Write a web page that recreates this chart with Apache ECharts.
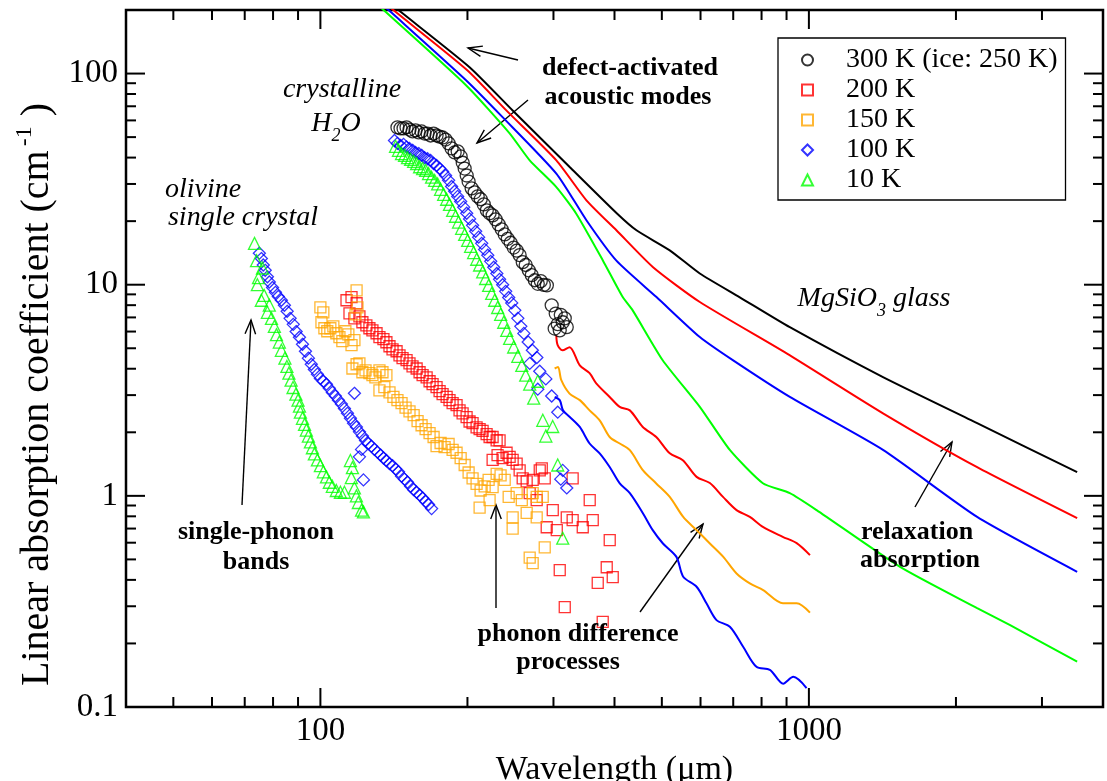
<!DOCTYPE html>
<html><head><meta charset="utf-8">
<script src="https://cdn.jsdelivr.net/npm/echarts@6/dist/echarts.min.js"></script>
<style>html,body{margin:0;padding:0;background:#fff}#c{width:1107px;height:781px}</style>
</head><body><div id="c"></div>
<script>
// ---------- axis ticks ----------
const xTickValues = [100, 1000];
const xTickLabels = ['100', '1000'];
const yTickValues = [0.1, 1, 10, 100];
const yTickLabels = ['0.1', '1', '10', '100'];
const xMinorTicks = [50,60,70,80,90,200,300,400,500,600,700,800,900,2000,3000];
const yMinorTicks = [0.2,0.3,0.4,0.5,0.6,0.7,0.8,0.9,2,3,4,5,6,7,8,9,20,30,40,50,60,70,80,90];
const X_MIN = 40, X_MAX = 4000, Y_MIN = 0.1, Y_MAX = 200;

// ---------- legend ----------
const legendNames = ['300 K (ice: 250 K)', '200 K', '150 K', '100 K', '10 K'];

// ---------- crystalline H2O ----------
const h2o300 = [[143.8,55.6],[145.9,55],[148,55],[150.1,55.6],[152.2,54.3],[154.4,53.2],[156.6,53.8],[158.9,52.6],[161.1,53.2],[163.4,52],[165.7,52],[168.1,50.9],[170.5,52],[172.9,50.9],[175.4,50.3],[177.9,49.8],[180.4,48.7],[183,46.7],[185.6,44.2],[188.3,42.3],[191,42.8],[193.7,40.5],[195.6,37.8],[197.4,35.5],[199.3,32.9],[201.1,30.8],[204,28.6],[206.9,27.4],[209.9,26.2],[212.9,25.4],[216,24],[219.1,22.5],[222,21.8],[225.2,21.3],[228.4,20.4],[231.7,19.3],[235,18.3],[238.4,17.3],[241.8,16.5],[245.2,15.8],[248.7,15],[252.3,14.5],[255.8,13.8],[259.5,12.8],[263.2,12.4],[267,11.7],[270.8,11.1],[274.7,10.5],[278.6,10.1],[282.6,10.4],[286.7,9.98],[290.8,9.93],[297.5,7.99],[303.2,7.3],[310.5,7.2],[316.4,6.93],[313.4,6.64],[306.1,6.5],[319.4,6.3],[301.7,6.2],[309,6.08]];
const h2o100 = [[141.8,48.2],[143.8,46.7],[145.9,45.7],[148,46.2],[150.1,44.9],[152.2,44.2],[154.4,43.3],[156.6,42.3],[158.9,41.8],[161.1,41],[163.4,40],[165.7,39.5],[168.1,38.8],[170.5,37.5],[172.9,36.7],[175.4,35.5],[177.9,34.4],[180.4,32.9],[183,31.2],[185.6,29.2],[188.3,27.7],[191,26.2],[193.7,24.8],[196.5,23.3],[199.3,21.8],[202,20.5],[204.9,19.1],[207.9,17.9],[210.8,16.8],[213.9,15.7],[216.9,14.7],[220.1,13.8],[223.2,12.9],[226.4,12.1],[229.7,11.3],[232.7,10.6],[236.1,10],[239.5,9.3],[242.9,8.7],[246.4,8.2],[250,7.56],[253.6,6.93],[257.2,6.35],[260.9,5.88],[266.3,5.35],[271.6,4.89],[277.4,4.52],[268.2,4.24],[281.2,3.89],[289.4,3.58],[278.6,3.2],[297.5,2.97],[306.1,2.49],[313.4,1.32],[319.4,1.09],[310.5,1.2]];
const h2o10 = [[142.5,45.2],[144.5,43.3],[146.6,41.8],[148.7,41],[150.8,40],[153,39.2],[155.2,38.4],[157.4,37.5],[159.6,36.2],[161.9,35.5],[164.2,34.8],[166.5,33.6],[168.9,32.3],[171.3,31.2],[173.8,30],[176.2,28.3],[178.8,26.8],[181.3,25.4],[183.8,24],[186.5,22.5],[189.1,21.1],[191.8,19.8],[194.6,18.5],[197.4,17.3],[200.2,16.2],[203,15.2],[205.9,14.2],[208.9,13.2],[211.8,12.4],[214.9,11.5],[217.9,10.7],[221,9.93],[224.2,9.1],[227.4,8.44],[230.6,7.8],[233.9,7.24],[237.3,6.64],[240.7,6.08],[244,5.57],[248.7,5.07],[253.6,4.58],[258.4,4.15],[263.2,3.73],[268.2,3.38],[273.3,2.9],[278.6,3.49],[285.3,2.28],[289.4,1.92],[298.9,2.13],[306.1,1.4],[313.4,0.63]];

// ---------- olivine single crystal ----------
const oliv100 = [[75,14.1],[75.7,13.3],[76.4,12.4],[77.1,11.7],[77.9,10.9],[78.6,10.3],[79.8,9.7],[80.9,9.2],[82,8.8],[83.2,8.44],[84.4,7.99],[85.5,7.48],[86.7,6.93],[88,6.49],[89.2,6],[90.6,5.64],[91.9,5.22],[93.2,4.84],[94.5,4.49],[95.8,4.2],[97.2,3.97],[98.6,3.77],[100,3.6],[101.4,3.49],[102.9,3.38],[104.3,3.23],[105.8,3.09],[107.3,2.97],[108.9,2.84],[110.4,2.72],[112,2.59],[113.6,2.46],[115.2,2.33],[116.9,2.21],[118.5,2.12],[120.2,2.01],[121.9,1.92],[123.7,1.83],[125.4,1.77],[127.2,1.72],[129,1.66],[130.9,1.61],[132.8,1.56],[134.6,1.51],[136.5,1.47],[138.5,1.42],[140.5,1.39],[142.5,1.34],[144.5,1.3],[146.6,1.24],[148.7,1.2],[150.8,1.16],[153,1.11],[155.2,1.07],[157.4,1.04],[159.6,1.01],[161.9,0.976],[164.2,0.94],[166.5,0.91],[168.9,0.87],[117.4,3.06],[120.2,1.53],[122.5,1.19],[121.4,1.66]];
const oliv10 = [[73.3,15.7],[74,13],[76.1,12],[74.7,10.8],[74.3,10],[76.7,8.9],[75.7,8.44],[78.6,8],[77.9,7.4],[79.4,6.93],[80.5,6.35],[81.3,5.8],[82.4,5.35],[83.2,4.89],[84.6,4.49],[85.4,4.1],[86.2,3.81],[87.1,3.53],[87.9,3.26],[89.1,3.03],[90,2.84],[90.6,2.66],[91,2.49],[91.9,2.33],[92.8,2.18],[93.6,2.05],[94.5,1.92],[95.4,1.8],[96.3,1.69],[97.2,1.58],[98.6,1.48],[100,1.39],[101.4,1.3],[102.9,1.23],[104.3,1.16],[105.8,1.11],[107.8,1.06],[109.9,1.04],[112,1.04],[115.2,1.47],[116.3,1.36],[115.7,1.22],[117.4,1.09],[118.5,1],[119.6,0.93],[121.4,0.856],[122.5,0.84]];

// ---------- squares ----------
const sq200 = [[113.1,8.44],[115.8,8.73],[118.6,8.17],[114.7,7.32],[117.4,6.93],[120.2,7.08],[121.9,6.64],[124.2,6.42],[126,6.22],[127.8,6.08],[130.3,5.89],[132.1,5.64],[134.6,5.52],[136.5,5.34],[138.5,5.11],[140.5,4.94],[143.2,4.84],[145.2,4.63],[147.3,4.49],[150.1,4.39],[152.2,4.24],[154.4,4.1],[157.4,4.01],[159.6,3.85],[161.9,3.73],[165,3.64],[167.3,3.49],[169.7,3.38],[172.9,3.27],[175.4,3.13],[177.9,3.03],[181.3,2.94],[183.8,2.84],[186.5,2.75],[190,2.69],[192.7,2.54],[195.5,2.46],[199.2,2.36],[202,2.25],[204.9,2.21],[208.8,2.11],[211.8,2.07],[214.8,2.03],[218.9,1.96],[222,1.9],[225.2,1.9],[229.5,1.83],[232.7,1.83],[225.2,1.48],[230.5,1.56],[236,1.51],[240.5,1.6],[244,1.53],[247.5,1.48],[252.2,1.42],[255.8,1.32],[259.5,1.21],[264.4,1.17],[268.2,1.03],[272,1.19],[277.2,0.954],[281.2,1.32],[283.9,1.35],[287.9,1.21],[290.6,0.71],[299,0.856],[304.7,0.688],[319.4,0.79],[328.4,0.767],[328.4,1.21],[344.4,0.71],[355.9,0.954],[361,0.767],[391.1,0.617],[309,0.445],[385.6,0.459],[396.7,0.412],[369.6,0.387],[316.4,0.297],[378.4,0.253]];
const sq150 = [[100,7.81],[101.4,7.4],[100.5,6.64],[101.9,6.22],[103.3,6.02],[104.8,6.22],[106.3,6.35],[107.8,5.89],[109.4,5.64],[110.9,5.4],[112.5,6.02],[114.1,5.82],[115.8,5.17],[117.4,5.46],[118.6,9.41],[119.1,7.81],[118,7.24],[116.3,4.01],[118.6,4.2],[120.2,4.24],[121.9,3.85],[123.7,3.93],[126,3.81],[127.8,3.73],[129.6,3.64],[132.1,3.93],[134,3.85],[136.5,3.73],[132.1,3.16],[135.2,3.27],[138.5,3.09],[141.1,2.94],[143.8,2.84],[146.6,2.75],[149.4,2.62],[152.2,2.51],[155.2,2.41],[158.1,2.26],[161.1,2.16],[164.2,2.07],[167.3,1.98],[170.5,1.9],[172.9,1.72],[176.2,1.78],[179.6,1.7],[183,1.76],[186.5,1.65],[190,1.6],[193.7,1.51],[197.4,1.4],[201.1,1.29],[204.9,1.21],[208.8,1.14],[212.8,1.06],[216.9,1.11],[221,1.19],[225.2,1.1],[229.5,1.27],[233.8,1.25],[238.4,1.19],[211.8,0.88],[222,0.954],[242.9,0.99],[247.5,0.79],[252.2,1.03],[258.4,0.954],[264.4,0.83],[272,1.03],[277.2,0.99],[285.2,0.99],[247.5,0.7],[268.2,0.51],[272,0.48],[287.9,0.57],[277.2,0.79]];

// ---------- long-wavelength spectra (continuation) ----------
const wig200 = [[304,5.76],[306,5.17],[313,4.89],[323.6,5.06],[339.6,4.15],[355.7,3.81],[367,3.41],[391,2.94],[410,2.64],[430,2.54],[457,2.12],[487,1.9],[519,1.59],[552,1.476],[589,1.23],[627,1.15],[667,0.989],[711,0.856],[757,0.795],[805,0.713],[884,0.64],[944,0.597],[1005,0.524]];
const wig150 = [[301.7,4.01],[306.5,4.08],[311.3,3.53],[323.6,3.05],[339.6,2.84],[355.7,2.54],[373,2.28],[391,1.9],[410,1.77],[430,1.645],[457.6,1.32],[487,1.145],[519,0.989],[553,0.795],[589,0.688],[627,0.595],[668,0.514],[711,0.429],[757,0.385],[806,0.358],[885,0.31],[944,0.31],[1005,0.28]];
const wig100 = [[301.7,2.94],[309,2.84],[313.8,2.54],[323.6,2.37],[339.6,2.12],[355.7,1.77],[373,1.59],[391,1.37],[410,1.145],[430,1.03],[457.6,0.825],[479,0.688],[502.6,0.595],[535.6,0.514],[553,0.414],[589,0.371],[617,0.31],[647,0.258],[689,0.24],[733.5,0.193],[781,0.155],[832,0.15],[886,0.129],[929,0.139],[989,0.123]];

// ---------- MgSiO3 glass ----------
const glass300 = [[140,212],[146.4,195],[202,107.2],[247.5,66.9],[323.8,36.1],[404.2,21.8],[443.6,18.1],[519,14.55],[598,11.3],[722,8.72],[914,6.29],[1418,3.65],[2210,2.21],[3541,1.295]];
const glass200 = [[137,212],[142.9,195],[200.1,103.4],[240.2,66.9],[304.1,38.8],[350.4,25.1],[403.6,18.1],[479.7,12.1],[598,8.28],[900.3,4.73],[1418,2.46],[2210,1.367],[3541,0.784]];
const glass100 = [[134,212],[139.6,195],[198.9,92.8],[236,62.2],[304.1,33.6],[350.4,20.2],[403.6,13],[487.5,8.74],[598,5.65],[698.6,4.39],[914,2.94],[1418,1.65],[2210,0.795],[3541,0.437]];
const glass10 = [[131,212],[136.3,195],[198.9,87.8],[244,52.1],[268.2,38.8],[304.1,29],[334,21.7],[378.9,13],[415.8,8.74],[435.8,7.56],[502,4.39],[598,2.64],[688.8,1.65],[805,1.148],[914,1.03],[1037,0.856],[1537,0.461],[2210,0.294],[2582,0.244],[3541,0.164]];

const FONT = 'Liberation Serif';
const chart = echarts.init(document.getElementById('c'), null, {renderer: 'canvas'});

function labelFor(vals, labels) {
  return function (v) {
    const i = vals.findIndex(t => Math.abs(Math.log10(t) - Math.log10(v)) < 1e-6);
    return i < 0 ? '' : labels[i];
  };
}
function sc(name, data, symbol, color, size) {
  return {type: 'scatter', name, data, symbol, symbolSize: size, silent: true, z: 3,
    itemStyle: {color: 'transparent', borderColor: color, borderWidth: 1.3},
    emphasis: {disabled: true}};
}
function ln(name, data, color, smooth) {
  return {type: 'line', name, data, symbol: 'none', showSymbol: false, silent: true, clip: true, z: 2,
    smooth: smooth || false, lineStyle: {color, width: 2}, emphasis: {disabled: true}};
}
// tick marks on all 4 sides, positioned through the axes
const tickData = [];
xTickValues.forEach(v => tickData.push([v, 1, 0, 1]));
xMinorTicks.forEach(v => tickData.push([v, 1, 0, 0]));
yTickValues.forEach(v => tickData.push([100, v, 1, 1]));
yMinorTicks.forEach(v => tickData.push([100, v, 1, 0]));
const tickSeries = {
  type: 'custom', silent: true, z: 5, data: tickData, encode: {x: 0, y: 1},
  renderItem: function (params, api) {
    const isY = api.value(2) === 1, L = api.value(3) === 1 ? 19 : 10;
    const sty = {stroke: '#000', lineWidth: 2};
    if (!isY) {
      const v = api.value(0), b = api.coord([v, Y_MIN]), t = api.coord([v, Y_MAX]);
      return {type: 'group', children: [
        {type: 'line', shape: {x1: b[0], y1: b[1], x2: b[0], y2: b[1] - L}, style: sty},
        {type: 'line', shape: {x1: t[0], y1: t[1], x2: t[0], y2: t[1] + L}, style: sty}]};
    }
    const v = api.value(1), l = api.coord([X_MIN, v]), r = api.coord([X_MAX, v]);
    return {type: 'group', children: [
      {type: 'line', shape: {x1: l[0], y1: l[1], x2: l[0] + L, y2: l[1]}, style: sty},
      {type: 'line', shape: {x1: r[0], y1: r[1], x2: r[0] - L, y2: r[1]}, style: sty}]};
  }
};

function txt(text, x, y, size, italic, bold, rich) {
  const st = {text, x, y, fill: '#000', align: 'center', verticalAlign: 'middle',
    fontFamily: FONT, fontSize: size, fontStyle: italic ? 'italic' : 'normal', fontWeight: bold ? 'bold' : 'normal'};
  if (rich) st.rich = rich;
  return {type: 'text', z: 10, silent: true, style: st};
}
function arrow(x1, y1, x2, y2) {
  const a = Math.atan2(y2 - y1, x2 - x1), L = 15, h = 0.36;
  const sty = {stroke: '#000', lineWidth: 1.4, fill: null};
  return {type: 'group', z: 10, silent: true, children: [
    {type: 'line', shape: {x1, y1, x2, y2}, style: sty},
    {type: 'polyline', shape: {points: [[x2 - L * Math.cos(a - h), y2 - L * Math.sin(a - h)], [x2, y2], [x2 - L * Math.cos(a + h), y2 - L * Math.sin(a + h)]]}, style: sty}]};
}
const subRich = {
  m: {fontFamily: FONT, fontSize: 28, fontStyle: 'italic'},
  s: {fontFamily: FONT, fontSize: 18, fontStyle: 'italic', padding: [24, 0, 0, 0]}
};

chart.setOption({
  animation: false,
  backgroundColor: '#fff',
  textStyle: {fontFamily: FONT, color: '#000'},
  grid: {left: 126, right: 4, top: 10, bottom: 74, show: true, borderColor: '#000', borderWidth: 2.5,
    backgroundColor: 'transparent', containLabel: false, outerBoundsMode: 'none'},
  xAxis: {type: 'log', logBase: 10, min: X_MIN, max: X_MAX,
    axisLine: {show: false}, axisTick: {show: false}, splitLine: {show: false}, minorTick: {show: false},
    axisLabel: {formatter: labelFor(xTickValues, xTickLabels), fontFamily: FONT, fontSize: 33, color: '#000', margin: 8},
    name: 'Wavelength (\u03bcm)', nameLocation: 'middle', nameGap: 42,
    nameTextStyle: {fontFamily: FONT, fontSize: 34, color: '#000'}},
  yAxis: {type: 'log', logBase: 10, min: Y_MIN, max: Y_MAX,
    axisLine: {show: false}, axisTick: {show: false}, splitLine: {show: false}, minorTick: {show: false},
    axisLabel: {formatter: labelFor(yTickValues, yTickLabels), fontFamily: FONT, fontSize: 33, color: '#000', margin: 8},
    name: 'Linear absorption coefficient (cm{sup|-1}{n|)}', nameLocation: 'middle', nameGap: 61, nameRotate: 90,
    nameTextStyle: {fontFamily: FONT, fontSize: 40, color: '#000', padding: [0, 72, 0, 0],
      rich: {sup: {fontFamily: FONT, fontSize: 24, padding: [0, 0, 26, 4]}, n: {fontFamily: FONT, fontSize: 40, padding: [0, 0, 0, 10]}}}},
  legend: {data: legendNames, orient: 'vertical', left: 778, top: 38, padding: [7, 8, 5, 23],
    itemGap: 0, itemWidth: 11, itemHeight: 11, borderColor: '#000', borderWidth: 1.3, borderRadius: 0,
    backgroundColor: '#fff', selectedMode: false,
    formatter: n => '    ' + n,
    textStyle: {fontFamily: FONT, fontSize: 28, color: '#000', lineHeight: 30}},
  series: [
    sc(legendNames[0], h2o300, 'circle', '#000000', 13),
    sc(legendNames[1], sq200, 'rect', '#ff0000', 11),
    sc(legendNames[2], sq150, 'rect', '#ffa500', 11),
    sc(legendNames[3], oliv100, 'diamond', '#0000ff', 12),
    sc(legendNames[3], h2o100, 'diamond', '#0000ff', 12),
    sc(legendNames[4], oliv10, 'triangle', '#00ff00', 12),
    sc(legendNames[4], h2o10, 'triangle', '#00ff00', 12),
    ln('glass 300 K', glass300, '#000000', 0.2),
    ln('glass 200 K', glass200, '#ff0000', 0.2),
    ln('glass 100 K', glass100, '#0000ff', 0.2),
    ln('glass 10 K', glass10, '#00ff00', 0.2),
    ln('long 200 K', wig200, '#ff0000', 0.3),
    ln('long 150 K', wig150, '#ffa500', 0.3),
    ln('long 100 K', wig100, '#0000ff', 0.3),
    tickSeries
  ],
  graphic: [
    txt('crystalline', 342, 90, 28, true, false),
    txt('{m|H}{s|2}{m|O}', 336, 124, 28, true, false, subRich),
    txt('olivine', 203, 190, 28, true, false),
    txt('single crystal', 243, 218, 28, true, false),
    txt('defect-activated', 630, 68, 26, false, true),
    txt('acoustic modes', 628, 97, 26, false, true),
    txt('{m|MgSiO}{s|3}{m| glass}', 874, 299, 28, true, false, subRich),
    txt('relaxation', 917, 532, 26, false, true),
    txt('absorption', 920, 560, 26, false, true),
    txt('single-phonon', 256, 532, 26, false, true),
    txt('bands', 256, 562, 26, false, true),
    txt('phonon difference', 578, 634, 26, false, true),
    txt('processes', 568, 662, 26, false, true),
    arrow(518, 60, 468, 48),
    arrow(528, 100, 477, 143),
    arrow(915, 507, 952, 442),
    arrow(242, 505, 251, 320),
    arrow(496, 608, 496, 505),
    arrow(640, 612, 703, 524)
  ]
});
</script></body></html>
